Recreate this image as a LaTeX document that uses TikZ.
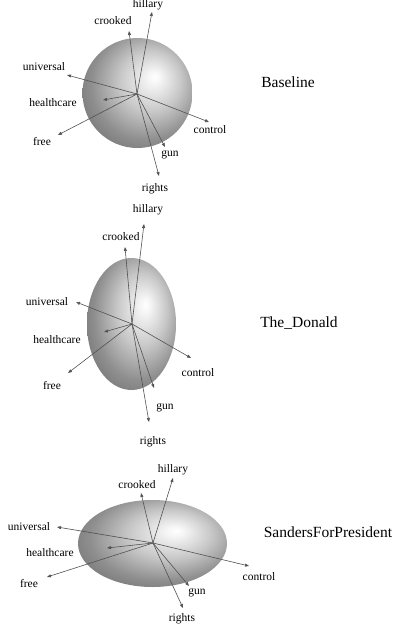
\documentclass[tikz,border=0pt]{standalone}
\usepackage{fontspec}
\setmainfont{Liberation Serif}
\usetikzlibrary{arrows.meta}

% sphere-like shading, highlight up and to the right
\pgfdeclareradialshading{sheen}{\pgfpoint{8bp}{7.5bp}}{color(0bp)=(white); color(3bp)=(black!4); color(14bp)=(black!22); color(25bp)=(black!44); color(36bp)=(black!58); color(50bp)=(black!60)}

\tikzset{
  blob/.style={shading=sheen},
  vec/.style={draw=black!68, line width=0.6pt, -{Triangle[length=4pt,width=3pt]}},
  word/.style={font=\fontsize{11.5}{13}\selectfont, inner sep=0pt},
  title/.style={font=\fontsize{15.5}{18}\selectfont, inner sep=0pt}
}

\begin{document}
\begin{tikzpicture}[x=1pt,y=-1pt]
  \useasboundingbox (0,0) rectangle (401,629);

  % Baseline
  \shade[blob] (137.5,93) ellipse [x radius=55pt, y radius=55pt];
  \coordinate (b-o) at (137,94);
  \foreach \w/\tx/\ty/\lx/\ly in {hillary/152/12/148/5, crooked/129/31/113/21,
      universal/67/75/44/67, healthcare/103/100/53/103, free/58/135/42/142,
      control/209/122/210/130, gun/165/147/170/155, rights/159/176/155/189} {
    \coordinate (b-\w) at (\tx,\ty);
    \node[word] (b-\w-lab) at (\lx,\ly) {\w};
    \draw[vec] (b-o) -- (b-\w);
  }
  \node[title] (b-title) at (288,82) {Baseline};

  % The_Donald
  \shade[blob] (131.5,324) ellipse [x radius=44.5pt, y radius=66pt];
  \coordinate (d-o) at (132,324);
  \foreach \w/\tx/\ty/\lx/\ly in {hillary/144/224/148/210, crooked/125/247/121/237,
      universal/76/302/47/302, healthcare/104/332/57/340, free/68/373/52/386,
      control/191/358/198/373, gun/154/388/165/408, rights/149/422/153/442} {
    \coordinate (d-\w) at (\tx,\ty);
    \node[word] (d-\w-lab) at (\lx,\ly) {\w};
    \draw[vec] (d-o) -- (d-\w);
  }
  \node[title] (d-title) at (299,323) {The\_Donald};

  % SandersForPresident
  \shade[blob] (152.5,543.5) ellipse [x radius=74.5pt, y radius=43.5pt];
  \coordinate (s-o) at (153,543);
  \foreach \w/\tx/\ty/\lx/\ly in {hillary/173/478/173/470, crooked/141/493/137/485,
      universal/57/527/29/527, healthcare/107/548/50/553, free/47/577/29/583,
      control/249/566/259/577, gun/189/586/197/593, rights/183/608/182/619} {
    \coordinate (s-\w) at (\tx,\ty);
    \node[word] (s-\w-lab) at (\lx,\ly) {\w};
    \draw[vec] (s-o) -- (s-\w);
  }
  \node[title] (s-title) at (328,532) {SandersForPresident};
\end{tikzpicture}
\end{document}
